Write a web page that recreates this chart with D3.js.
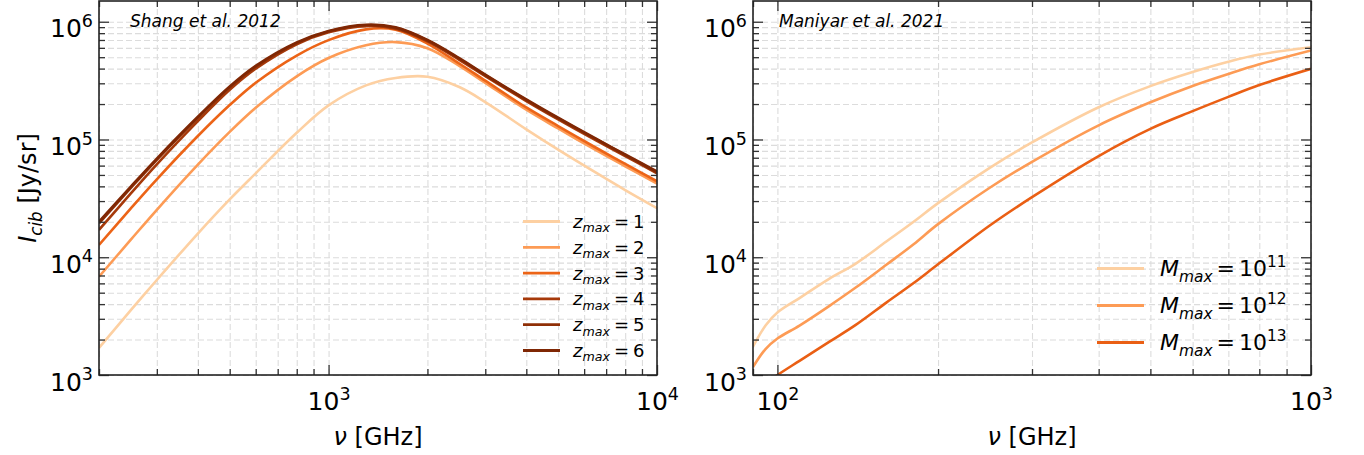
<!DOCTYPE html>
<html>
<head>
<meta charset="utf-8">
<script src="https://cdn.jsdelivr.net/npm/d3@7"></script>
<style>
  body { margin: 0; background: #fff; }
  svg text { font-family: "DejaVu Sans", sans-serif; white-space: pre; fill: #000; }
</style>
</head>
<body>
<svg id="fig" width="1364" height="455"></svg>
<script>
// ---- Shang et al. 2012 : CIB intensity vs frequency for several z_max ----
const nuShang = [200, 250, 300, 400, 500, 600, 800, 1000, 1300, 1600, 2000, 2500, 3000, 4000, 5000, 6500, 8000, 10000];
const zMaxLevels = [1, 2, 3, 4, 5, 6];
const shangZ1 = [1.70e3, 3.55e3, 6.41e3, 1.59e4, 3.10e4, 5.16e4, 1.14e5, 1.95e5, 2.88e5, 3.33e5, 3.41e5, 2.79e5, 2.08e5, 1.22e5, 8.20e4, 5.25e4, 3.72e4, 2.61e4];
const shangZ2 = [6.84e3, 1.41e4, 2.53e4, 6.12e4, 1.16e5, 1.86e5, 3.44e5, 4.92e5, 6.31e5, 6.71e5, 5.96e5, 4.22e5, 3.02e5, 1.79e5, 1.24e5, 8.15e4, 5.92e4, 4.22e4];
const shangZ3 = [1.27e4, 2.60e4, 4.59e4, 1.07e5, 1.96e5, 3.03e5, 5.16e5, 6.98e5, 8.61e5, 8.55e5, 6.53e5, 4.42e5, 3.16e5, 1.87e5, 1.30e5, 8.55e4, 6.21e4, 4.42e4];
const shangZ4 = [1.71e4, 3.48e4, 6.14e4, 1.43e5, 2.64e5, 3.99e5, 6.44e5, 8.13e5, 9.18e5, 8.71e5, 6.81e5, 4.75e5, 3.45e5, 2.12e5, 1.48e5, 9.86e4, 7.23e4, 5.16e4];
const shangZ5 = [1.94e4, 3.88e4, 6.73e4, 1.53e5, 2.77e5, 4.15e5, 6.59e5, 8.26e5, 9.33e5, 8.87e5, 6.93e5, 4.85e5, 3.52e5, 2.16e5, 1.51e5, 1.01e5, 7.38e4, 5.27e4];
const shangZ6 = [2.00e4, 3.98e4, 6.89e4, 1.56e5, 2.82e5, 4.22e5, 6.68e5, 8.36e5, 9.44e5, 8.97e5, 7.01e5, 4.91e5, 3.56e5, 2.19e5, 1.53e5, 1.02e5, 7.46e4, 5.35e4];
const shangColors = ["#fdd0a2", "#fd9b55", "#ec6417", "#a6390a", "#8f2f06", "#7f2704"];

// ---- Maniyar et al. 2021 : CIB intensity vs frequency for several M_max ----
const nuManiyar = [90, 95, 100, 110, 125, 140, 160, 180, 200, 250, 300, 400, 500, 600, 700, 800, 1000];
const mMaxExponents = [11, 12, 13];
const maniyarM11 = [1.74e3, 2.63e3, 3.39e3, 4.50e3, 6.55e3, 8.79e3, 1.36e4, 2.00e4, 2.88e4, 5.75e4, 9.44e4, 1.88e5, 2.84e5, 3.74e5, 4.57e5, 5.26e5, 6.08e5];
const maniyarM12 = [1.17e3, 1.66e3, 2.04e3, 2.63e3, 3.85e3, 5.50e3, 8.63e3, 1.29e4, 1.91e4, 3.89e4, 6.46e4, 1.32e5, 2.07e5, 2.85e5, 3.60e5, 4.35e5, 5.70e5];
const maniyarM13 = [7.08e2, 8.51e2, 1.00e3, 1.32e3, 1.91e3, 2.65e3, 4.12e3, 6.04e3, 8.71e3, 1.86e4, 3.24e4, 7.24e4, 1.23e5, 1.74e5, 2.30e5, 2.90e5, 3.98e5];
const maniyarColors = ["#fdd0a2", "#fd9b55", "#ea5f14"];

// ---- shared axis settings ----
const intensityDomain = [1e3, 1.5e6];
const shangNuDomain = [200, 1e4];
const maniyarNuDomain = [90, 1e3];

const svg = d3.select("#fig");
const isDecade = v => Math.abs(Math.log10(v) - Math.round(Math.log10(v))) < 1e-9;

// "10" with a raised exponent
function decadeText(sel, size) {
  sel.each(function (d) {
    const t = d3.select(this);
    t.text(null).attr("font-size", size);
    t.append("tspan").text("10");
    t.append("tspan").attr("dy", -size * 0.42).attr("font-size", size * 0.7).text(Math.round(Math.log10(d)));
  });
}

// small mathtext-like label builder: parts = [{t, i, sub, sup, dx}]
function mathText(parent, x, y, parts, size, anchor) {
  const t = parent.append("text").attr("x", x).attr("y", y)
    .attr("font-size", size).attr("text-anchor", anchor || "start");
  let shift = 0;
  parts.forEach(p => {
    const ts = t.append("tspan").text(p.t);
    if (p.i) ts.attr("font-style", "italic");
    if (p.dx) ts.attr("dx", p.dx);
    const target = p.sub ? size * 0.24 : p.sup ? -size * 0.42 : 0;
    if (target !== shift) { ts.attr("dy", target - shift); shift = target; }
    if (p.sub || p.sup) ts.attr("font-size", size * 0.7);
  });
  return t;
}

function drawPanel(cfg) {
  const w = cfg.x1 - cfg.x0, h = cfg.y1 - cfg.y0;
  const g = svg.append("g").attr("transform", `translate(${cfg.x0},${cfg.y0})`);
  const x = d3.scaleLog().domain(cfg.xDomain).range([0, w]);
  const y = d3.scaleLog().domain(intensityDomain).range([h, 0]);

  const xAll = x.ticks(), yAll = y.ticks();
  const xMajor = xAll.filter(isDecade), xMinor = xAll.filter(v => !isDecade(v));
  const yMajor = yAll.filter(isDecade), yMinor = yAll.filter(v => !isDecade(v));

  // dashed grid, major and minor
  const gridStyle = s => {
    s.select(".domain").remove();
    s.selectAll(".tick line").attr("stroke", "#dcdcdc").attr("stroke-width", 1.1).attr("stroke-dasharray", "6,3");
  };
  g.append("g").attr("transform", `translate(0,${h})`)
    .call(d3.axisBottom(x).tickValues(xAll).tickSize(-h).tickFormat("")).call(gridStyle);
  g.append("g")
    .call(d3.axisLeft(y).tickValues(yAll).tickSize(-w).tickFormat("")).call(gridStyle);

  // curves
  const clipId = "clip-" + cfg.id;
  g.append("clipPath").attr("id", clipId).append("rect").attr("width", w).attr("height", h);
  const line = d3.line().x(d => x(d[0])).y(d => y(d[1])).curve(d3.curveCatmullRom.alpha(0.5));
  const lines = g.append("g").attr("clip-path", `url(#${clipId})`);
  cfg.series.forEach((s, i) => {
    lines.append("path")
      .datum(cfg.nu.map((v, k) => [v, s[k]]))
      .attr("fill", "none").attr("stroke", cfg.colors[i]).attr("stroke-width", 2.6)
      .attr("stroke-linejoin", "round").attr("d", line);
  });

  // inward ticks on all four sides
  const tickStyle = s => {
    s.select(".domain").remove();
    s.selectAll(".tick line").attr("stroke", "#333").attr("stroke-width", 1.3);
  };
  const majorLen = 10, minorLen = 6, labelSize = 25;
  const bottomMajor = g.append("g").attr("transform", `translate(0,${h})`)
    .call(d3.axisBottom(x).tickValues(xMajor).tickSizeInner(-majorLen).tickSizeOuter(0).tickPadding(35))
    .call(tickStyle);
  bottomMajor.selectAll(".tick text").attr("dy", null).call(decadeText, labelSize);
  g.append("g").attr("transform", `translate(0,${h})`)
    .call(d3.axisBottom(x).tickValues(xMinor).tickSize(-minorLen).tickFormat("")).call(tickStyle);
  g.append("g")
    .call(d3.axisTop(x).tickValues(xMajor).tickSize(-majorLen).tickFormat("")).call(tickStyle);
  g.append("g")
    .call(d3.axisTop(x).tickValues(xMinor).tickSize(-minorLen).tickFormat("")).call(tickStyle);

  const leftMajor = g.append("g")
    .call(d3.axisLeft(y).tickValues(yMajor).tickSizeInner(-majorLen).tickSizeOuter(0).tickPadding(6))
    .call(tickStyle);
  leftMajor.selectAll(".tick text").attr("dy", "0.6em").call(decadeText, labelSize);
  g.append("g")
    .call(d3.axisLeft(y).tickValues(yMinor).tickSize(-minorLen).tickFormat("")).call(tickStyle);
  g.append("g").attr("transform", `translate(${w},0)`)
    .call(d3.axisRight(y).tickValues(yMajor).tickSize(-majorLen).tickFormat("")).call(tickStyle);
  g.append("g").attr("transform", `translate(${w},0)`)
    .call(d3.axisRight(y).tickValues(yMinor).tickSize(-minorLen).tickFormat("")).call(tickStyle);

  // frame
  g.append("rect").attr("width", w).attr("height", h)
    .attr("fill", "none").attr("stroke", "#222").attr("stroke-width", 1.6);

  // source note
  g.append("text").attr("x", cfg.noteX).attr("y", 26).attr("font-size", 17)
    .attr("font-style", "italic").text(cfg.note);

  // x label
  mathText(g, w / 2, 445 - cfg.y0, [{ t: "ν", i: true }, { t: " [GHz]" }], 24, "middle");

  // legend
  const lg = g.append("g").attr("transform", `translate(${cfg.legend.x},${cfg.legend.y})`);
  cfg.legend.labels.forEach((lab, i) => {
    const yy = i * cfg.legend.step;
    lg.append("line").attr("x1", 0).attr("x2", cfg.legend.len).attr("y1", yy).attr("y2", yy)
      .attr("stroke", cfg.colors[i]).attr("stroke-width", 2.8);
    mathText(lg, cfg.legend.len + cfg.legend.gap, yy + cfg.legend.size * 0.36, lab, cfg.legend.size);
  });

  return g;
}

drawPanel({
  id: "shang", x0: 99, x1: 657, y0: 1, y1: 375,
  xDomain: shangNuDomain, nu: nuShang,
  series: [shangZ1, shangZ2, shangZ3, shangZ4, shangZ5, shangZ6],
  colors: shangColors,
  note: "Shang et al. 2012", noteX: 31,
  legend: {
    x: 424, y: 220.5, step: 25.8, len: 37, gap: 13, size: 18,
    labels: zMaxLevels.map(z => [{ t: "z", i: true }, { t: "max", i: true, sub: true }, { t: "=", dx: 4 }, { t: String(z), dx: 4 }])
  }
});

drawPanel({
  id: "maniyar", x0: 753, x1: 1311, y0: 1, y1: 375,
  xDomain: maniyarNuDomain, nu: nuManiyar,
  series: [maniyarM11, maniyarM12, maniyarM13],
  colors: maniyarColors,
  note: "Maniyar et al. 2021", noteX: 26,
  legend: {
    x: 344, y: 267.5, step: 37, len: 47, gap: 16, size: 22,
    labels: mMaxExponents.map(e => [{ t: "M", i: true }, { t: "max", i: true, sub: true }, { t: "=", dx: 4 }, { t: "10", dx: 4 }, { t: String(e), sup: true }])
  }
});

// y label of the left panel
const yl = mathText(svg, 0, 0, [{ t: "I", i: true }, { t: "cib", i: true, sub: true }, { t: " [Jy/sr]" }], 24, "middle");
yl.attr("transform", "translate(36,188) rotate(-90)");
</script>
</body>
</html>
